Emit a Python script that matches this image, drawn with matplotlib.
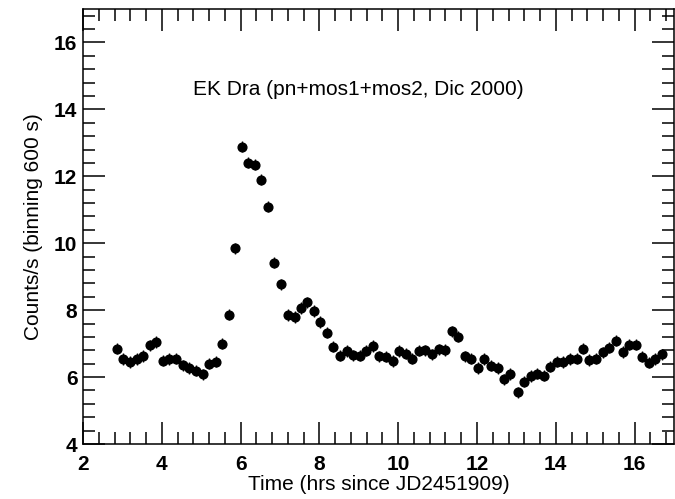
import matplotlib
matplotlib.use("Agg")
import matplotlib.pyplot as plt
from matplotlib.ticker import MultipleLocator

# EK Dra light curve, 600 s bins
time_hr = [2.86, 3.02, 3.19, 3.36, 3.52, 3.69, 3.86, 4.03, 4.19, 4.36,
           4.53, 4.70, 4.87, 5.04, 5.20, 5.37, 5.53, 5.70, 5.86, 6.04,
           6.20, 6.37, 6.53, 6.70, 6.86, 7.03, 7.20, 7.37, 7.53, 7.69,
           7.86, 8.02, 8.19, 8.35, 8.52, 8.69, 8.86, 9.02, 9.19, 9.36,
           9.52, 9.69, 9.87, 10.03, 10.19, 10.36, 10.53, 10.69, 10.86, 11.03,
           11.20, 11.36, 11.53, 11.70, 11.86, 12.03, 12.19, 12.36, 12.53, 12.69,
           12.85, 13.03, 13.20, 13.36, 13.53, 13.69, 13.85, 14.02, 14.19, 14.36,
           14.53, 14.68, 14.85, 15.02, 15.19, 15.36, 15.53, 15.70, 15.86, 16.03,
           16.19, 16.36, 16.53, 16.69]
rate = [6.85, 6.54, 6.45, 6.54, 6.63, 6.95, 7.05, 6.49, 6.54, 6.55,
        6.35, 6.27, 6.19, 6.08, 6.40, 6.46, 7.00, 7.87, 9.85, 12.89,
        12.41, 12.35, 11.90, 11.09, 9.42, 8.77, 7.86, 7.79, 8.06, 8.23,
        7.97, 7.65, 7.33, 6.91, 6.64, 6.78, 6.65, 6.64, 6.79, 6.93,
        6.62, 6.61, 6.48, 6.78, 6.70, 6.55, 6.79, 6.80, 6.68, 6.83,
        6.81, 7.37, 7.21, 6.62, 6.55, 6.27, 6.54, 6.34, 6.27, 5.93,
        6.09, 5.54, 5.86, 6.03, 6.10, 6.04, 6.31, 6.46, 6.45, 6.54,
        6.55, 6.85, 6.51, 6.55, 6.74, 6.88, 7.09, 6.75, 6.97, 6.97,
        6.61, 6.43, 6.54, 6.68]
rate_err = 0.17
bin_half = 0.083

plt.rcParams['font.family'] = ['Liberation Sans', 'DejaVu Sans']

fig = plt.figure(figsize=(6.75, 4.99), dpi=100)
ax = fig.add_axes([83 / 675, 1 - 444 / 499, (674 - 83) / 675, (444 - 9) / 499])

ax.errorbar(time_hr, rate, yerr=rate_err, xerr=bin_half, fmt='o', color='black',
            markersize=6.3, elinewidth=1.0, capsize=0)

ax.set_xlim(2, 17)
ax.set_ylim(4, 17)
ax.xaxis.set_major_locator(MultipleLocator(2))
ax.xaxis.set_minor_locator(MultipleLocator(0.4))
ax.yaxis.set_major_locator(MultipleLocator(2))
ax.yaxis.set_minor_locator(MultipleLocator(0.4))
ax.tick_params(which='both', direction='in', top=True, right=True, width=1.1)
ax.tick_params(which='major', length=16, labelsize=15)
ax.tick_params(axis='x', which='major', pad=8)
ax.tick_params(axis='y', which='major', pad=4)
ax.tick_params(which='minor', length=8.5)
for lab in ax.get_xticklabels() + ax.get_yticklabels():
    lab.set_fontweight('semibold')
for sp in ax.spines.values():
    sp.set_linewidth(1.1)

ax.set_xlabel('Time (hrs since JD2451909)', fontsize=15, labelpad=1)
ax.set_ylabel('Counts/s (binning 600 s)', fontsize=15, labelpad=8)
ax.text(9.0, 14.6, 'EK Dra (pn+mos1+mos2, Dic 2000)', fontsize=15,
        ha='center', va='center')

fig.savefig('out.png', dpi=100)
